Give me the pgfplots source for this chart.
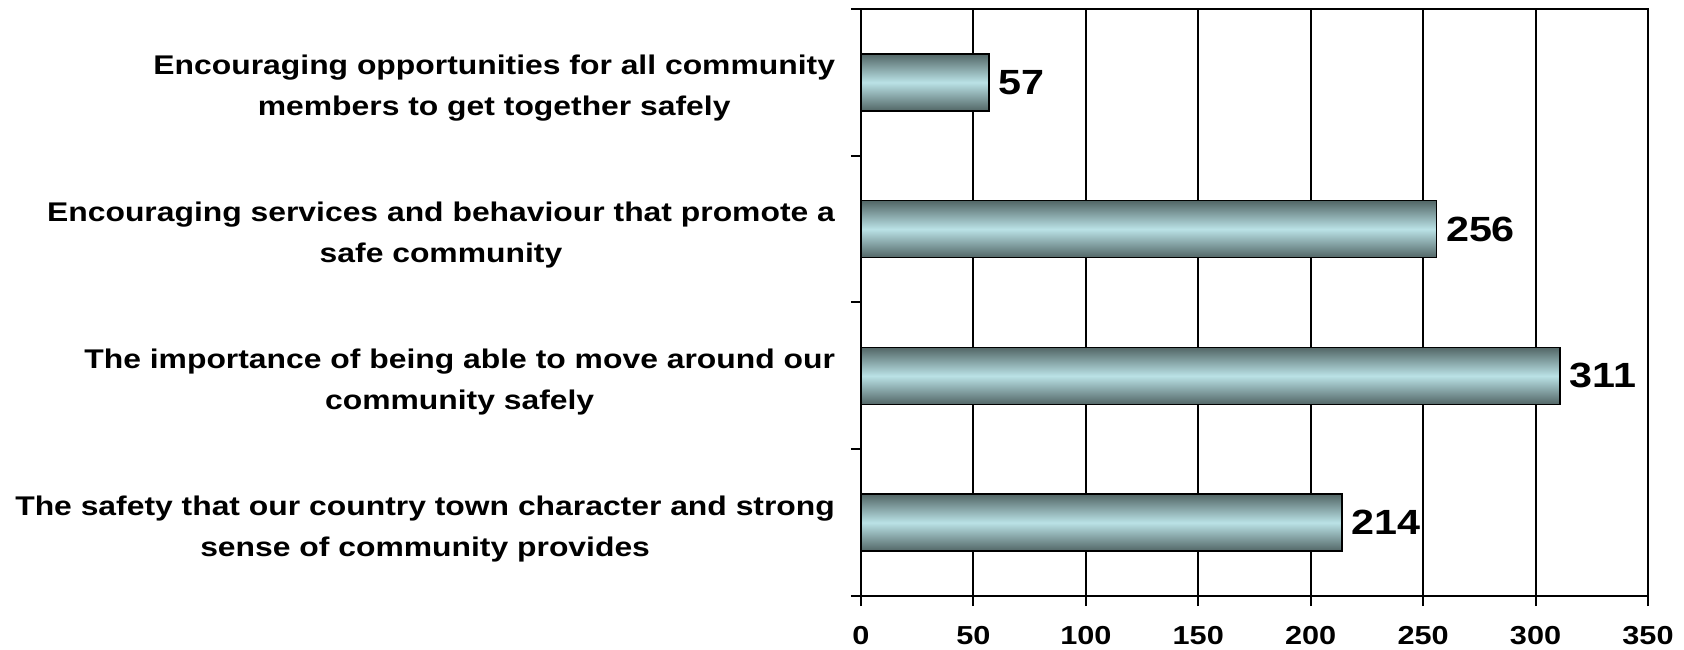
\documentclass[border=0pt]{standalone}
\usepackage{fontspec}
\setmainfont{Liberation Sans}[FakeStretch=1.18]
\usepackage{pgfplots}
\pgfplotsset{compat=1.18}
\definecolor{barDark}{HTML}{526666}
\definecolor{barLight}{HTML}{BAE2E6}
\pgfplotsset{mybar/.style={draw=black, line width=0.8bp, top color=barDark, bottom color=barDark, middle color=barLight}}
\begin{document}
\begin{tikzpicture}
\begin{axis}[
  scale only axis, width=393.5bp, height=293.5bp,
  xbar, bar width=28.5bp, bar shift=0pt,
  xmin=0, xmax=350, ymin=-0.5, ymax=3.5,
  xtick={0,50,...,350},
  ytick={-0.5,0.5,1.5,2.5,3.5},
  yticklabels={},
  extra y ticks={0,1,2,3},
  extra y tick labels={{The safety that our country town character and strong\\sense of community provides},
    {The importance of being able to move around our\\community safely},
    {Encouraging services and behaviour that promote a\\safe community},
    {Encouraging opportunities for all community\\members to get together safely}},
  extra y tick style={major tick length=0pt,
    yticklabel style={align=center, font=\fontsize{13.5bp}{20.5bp}\selectfont\bfseries, xshift=-9.5bp, yshift=-3bp}},
  major tick length=5bp,
  tick align=outside, tick pos=left,
  xmajorgrids, major x grid style={black, line width=1bp},
  axis line style={line width=1bp},
  every tick/.style={black, line width=1bp},
  /pgf/number format/assume math mode=true,
  xticklabel style={font=\fontsize{13bp}{14bp}\selectfont\bfseries, yshift=-6.5bp},
  nodes near coords,
  nodes near coords style={font=\fontsize{17.5bp}{20bp}\selectfont\bfseries, black, anchor=west, xshift=1bp},
  clip=false,
]
\addplot[mybar] coordinates {(214,0)};
\addplot[mybar] coordinates {(311,1)};
\addplot[mybar] coordinates {(256,2)};
\addplot[mybar] coordinates {(57,3)};
\end{axis}
\pgfresetboundingbox
\path ([shift={(-430.5bp,-27bp)}]current axis.south west) rectangle ([shift={(18bp,4.5bp)}]current axis.north east);
\end{tikzpicture}
\end{document}
